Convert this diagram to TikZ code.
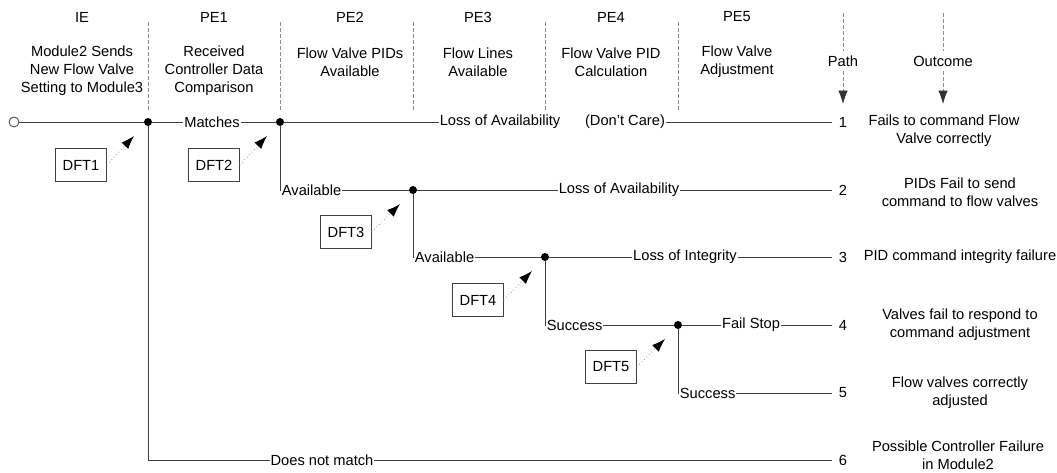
\documentclass[tikz,border=0pt]{standalone}
\usepackage{fontspec}
\setmainfont{Liberation Sans}
\usetikzlibrary{arrows.meta}

\begin{document}
\begin{tikzpicture}[x=0.75pt,y=-0.75pt,
      font=\fontsize{11}{13.5}\selectfont,
      line/.style={draw=black!75,line width=0.6pt},
      sep/.style={draw=black!45,line width=0.5pt,dash pattern=on 3pt off 1.5pt},
      dot/.style={circle,fill=black,inner sep=0pt,minimum size=6pt},
      start/.style={circle,draw=black!75,fill=white,inner sep=0pt,minimum size=7.5pt,line width=0.6pt},
      dft/.style={draw=black!75,line width=0.6pt,minimum width=38pt,minimum height=25pt,inner sep=1pt},
      lbl/.style={inner sep=0.5pt},
      head/.style={align=center},
      res/.style={align=center},
      num/.style={inner xsep=5pt},
      hint/.style={draw=black!40,dotted,line width=0.6pt,-{Latex[length=10pt,width=7pt,black]}},
      down/.style={sep,-{Latex[length=10pt,width=7pt,black!80]}}]
\useasboundingbox (0,0) rectangle (1057,473);

% column heads
\node (ie) at (82,17) {IE};
\node (pe1) at (214,17) {PE1};
\node (pe2) at (350,17) {PE2};
\node (pe3) at (478,17) {PE3};
\node (pe4) at (611,17) {PE4};
\node (pe5) at (737,17) {PE5};
\node[head] (ie-d) at (82,71) {Module2 Sends\\New Flow Valve\\Setting to Module3};
\node[head] (pe1-d) at (214,71) {Received\\Controller Data\\Comparison};
\node[head] (pe2-d) at (350,62) {Flow Valve PIDs\\Available};
\node[head] (pe3-d) at (478,62) {Flow Lines\\Available};
\node[head] (pe4-d) at (611,62) {Flow Valve PID\\Calculation};
\node[head] (pe5-d) at (737,62) {Flow Valve\\Adjustment};
\foreach \x in {148,280,413,545,678}
  \draw[sep] (\x,22) -- (\x,112);

\node (path) at (843,61) {Path};
\node (outc) at (943,61) {Outcome};
\coordinate (ptop) at (843,13);
\coordinate (pbot) at (843,104);
\coordinate (otop) at (943,13);
\coordinate (obot) at (943,104);
\draw[sep] (ptop) -- (path.north);
\draw[down] (path.south) -- (pbot);
\draw[sep] (otop) -- (outc.north);
\draw[down] (outc.south) -- (obot);

% branch points
\node[start] (s) at (14,122) {};
\node[dot] (b1) at (148,122) {};
\node[dot] (b2) at (280,122) {};
\node[dot] (b3) at (413,190) {};
\node[dot] (b4) at (545,257) {};
\node[dot] (b5) at (678,325) {};
\foreach \i/\y in {1/122,2/190,3/257,4/325,5/393,6/460}
  \node[num] (n\i) at (843,\y) {\i};

% labels on the branches
\node[lbl] (match) at (212,122) {Matches};
\node[lbl] (loa1) at (500,122) {Loss of Availability};
\node[lbl] (dc) at (625,122) {(Don't Care)};
\node[lbl,anchor=west] (av2) at (281,190) {Available};
\node[lbl] (loa2) at (619,190) {Loss of Availability};
\node[lbl,anchor=west] (av3) at (414,257) {Available};
\node[lbl] (loi) at (685,257) {Loss of Integrity};
\node[lbl,anchor=west] (suc4) at (546,325) {Success};
\node[lbl] (fs) at (751,325) {Fail Stop};
\node[lbl,anchor=west] (suc5) at (679,393) {Success};
\node[lbl] (dnm) at (322,460) {Does not match};

\draw[line] (s) -- (b1) -- (match) -- (b2) -- (loa1);
\draw[line] (dc) -- (n1);
\draw[line] (b2) |- (av2);
\draw[line] (av2) -- (b3) -- (loa2) -- (n2);
\draw[line] (b3) |- (av3);
\draw[line] (av3) -- (b4) -- (loi) -- (n3);
\draw[line] (b4) |- (suc4);
\draw[line] (suc4) -- (b5) -- (fs) -- (n4);
\draw[line] (b5) |- (suc5);
\draw[line] (suc5) -- (n5);
\draw[line] (b1) |- (dnm);
\draw[line] (dnm) -- (n6);

% outcomes
\node[res] (o1) at (944,131) {Fails to command Flow\\Valve correctly};
\node[res] (o2) at (960,192) {PIDs Fail to send\\command to flow valves};
\node[res] (o3) at (960,257) {PID command integrity failure};
\node[res] (o4) at (960,325) {Valves fail to respond to\\command adjustment};
\node[res] (o5) at (960,393) {Flow valves correctly\\adjusted};
\node[res] (o6) at (958,455) {Possible Controller Failure\\in Module2};

% fault trees
\node[dft] (d1) at (81,165) {DFT1};
\node[dft] (d2) at (214,165) {DFT2};
\node[dft] (d3) at (346,232) {DFT3};
\node[dft] (d4) at (478,300) {DFT4};
\node[dft] (d5) at (611,367) {DFT5};
\coordinate (t1) at (134,136);
\coordinate (t2) at (267,136);
\coordinate (t3) at (400,204);
\coordinate (t4) at (532,271);
\coordinate (t5) at (665,339);
\foreach \i in {1,...,5}
  \draw[hint] (d\i.east) -- (t\i);
\end{tikzpicture}
\end{document}
